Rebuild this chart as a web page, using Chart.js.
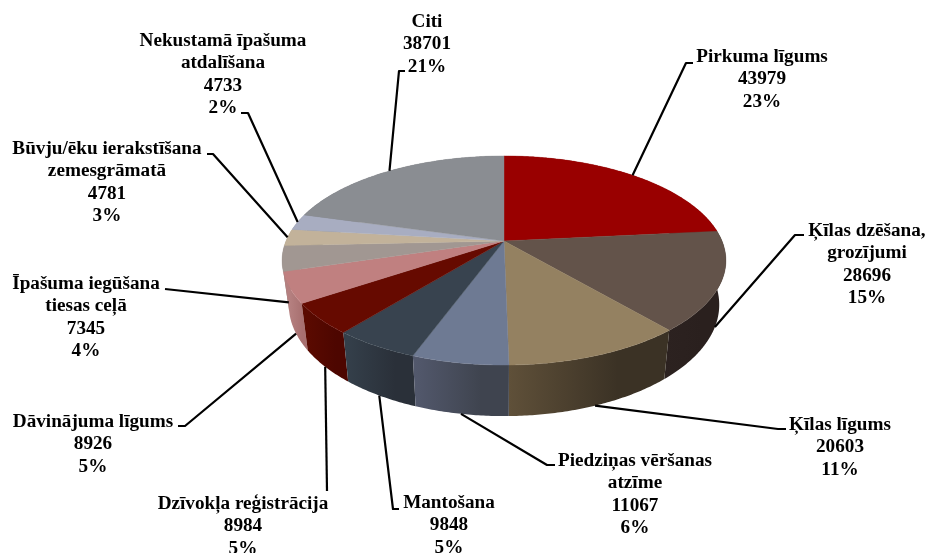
<!DOCTYPE html>
<html>
<head>
<meta charset="utf-8">
<style>
html,body{margin:0;padding:0;background:#fff;overflow:hidden}
canvas{display:block}
</style>
<script src="https://cdn.jsdelivr.net/npm/chart.js@4/dist/chart.umd.min.js"></script>
</head>
<body>
<canvas id="chart" width="928" height="553"></canvas>
<script>
// data
const categories=['Pirkuma līgums','Ķīlas dzēšana,\ngrozījumi','Ķīlas līgums','Piedziņas vēršanas\natzīme','Mantošana','Dzīvokļa reģistrācija','Dāvinājuma līgums','Īpašuma iegūšana\ntiesas ceļā','Būvju/ēku ierakstīšana\nzemesgrāmatā','Nekustamā īpašuma\natdalīšana','Citi'];
const counts=[43979,28696,20603,11067,9848,8984,8926,7345,4781,4733,38701];
const percents=['23%','15%','11%','6%','5%','5%','5%','4%','3%','2%','21%'];

// colours
const topColors=['#990000','#63534a','#948161','#6e7a93','#38434f','#660a00','#c08080','#a19792','#c2b29a','#a8adc1','#8a8d92'];
const sideLeft=['#7a0000','#2c2220','#5f5039','#52586c','#343f4a','#5a0a00','#b58080','#8a807b','#a3957f','#8b8fa0','#6f7176'];
const sideRight=['#7a0000','#2a201e','#3b3225','#3f444f','#2a3039','#4d0600','#a87070','#8a807b','#a3957f','#8b8fa0','#6f7176'];

// label layout: centre x, first baseline, leader elbow and end
const labelX=[762,867,840,635,449,243,93,86,107,223,427];
const labelY=[62,236,430,466,508,509,427,289,154,46,27];
const leaderEnds=[
  [[686,63],[693,63]],
  [[795,235],[804,235]],
  [[778,429],[786,429]],
  [[547,465],[555,465]],
  [[393,509],[399,509]],
  [[327,491]],
  [[185,426],[178,426]],
  [[165,289]],
  [[213,154],[207,154]],
  [[248,113],[241,113]],
  [[399,71],[405,71]]
];

// perspective of the disc
const cx=504,cy=241,R=218,K=100.9,P=0.1866;
const lineH=22.4;

function topPoint(a){
  const w=1-P*Math.sin(a);
  return [cx+R*Math.cos(a)/w,cy+K*Math.sin(a)/w];
}
function bottomPoint(a){
  const p=topPoint(a);
  return [cx+(p[0]-cx)*0.97,cy+(p[1]-cy)*1.065+43];
}
function arcPoints(fn,a0,a1){
  const n=Math.max(2,Math.ceil((a1-a0)/0.01)),pts=[];
  for(let i=0;i<=n;i++)pts.push(fn(a0+(a1-a0)*i/n));
  return pts;
}
function tracePts(ctx,pts){pts.forEach((p,i)=>i?ctx.lineTo(p[0],p[1]):ctx.moveTo(p[0],p[1]));}

const pie3d={
  id:'pie3d',
  beforeDatasetsDraw(chart){
    const ctx=chart.ctx,arcs=chart.getDatasetMeta(0).data;
    const order=arcs.map((_,i)=>i).sort((a,b)=>
      Math.sin((arcs[a].startAngle+arcs[a].endAngle)/2)-Math.sin((arcs[b].startAngle+arcs[b].endAngle)/2));
    ctx.save();
    // side wall, lighter on the left of each slice
    order.forEach(i=>{
      const a0=arcs[i].startAngle,a1=arcs[i].endAngle;
      const bot=arcPoints(bottomPoint,a0,a1),top=arcPoints(topPoint,a0,a1);
      const xs=bot.map(p=>p[0]);
      const g=ctx.createLinearGradient(Math.min(...xs),0,Math.max(...xs),0);
      g.addColorStop(0,sideLeft[i]);
      g.addColorStop(0.7,sideRight[i]);
      g.addColorStop(1,sideRight[i]);
      ctx.beginPath();
      tracePts(ctx,top.concat(bot.reverse()));
      ctx.closePath();
      ctx.fillStyle=g;
      ctx.fill();
    });
    // top face
    arcs.forEach((arc,i)=>{
      ctx.beginPath();
      ctx.moveTo(cx,cy);
      arcPoints(topPoint,arc.startAngle,arc.endAngle).forEach(p=>ctx.lineTo(p[0],p[1]));
      ctx.closePath();
      ctx.fillStyle=topColors[i];
      ctx.strokeStyle=topColors[i];
      ctx.lineWidth=0.4;
      ctx.fill();
      ctx.stroke();
    });
    // leader lines
    ctx.strokeStyle='#000';
    ctx.lineWidth=2.2;
    ctx.lineJoin='round';
    arcs.forEach((arc,i)=>{
      const mid=(arc.startAngle+arc.endAngle)/2;
      const start=Math.sin(mid)>0.1?bottomPoint(mid):topPoint(mid);
      ctx.beginPath();
      tracePts(ctx,[start].concat(leaderEnds[i]));
      ctx.stroke();
    });
    // labels
    ctx.fillStyle='#000';
    ctx.font='bold 19.2px "Liberation Serif"';
    ctx.textAlign='center';
    ctx.textBaseline='alphabetic';
    categories.forEach((c,i)=>{
      c.split('\n').concat([String(counts[i]),percents[i]]).forEach((t,j)=>{
        ctx.fillText(t,labelX[i],labelY[i]+j*lineH);
      });
    });
    ctx.restore();
    return false;
  }
};

new Chart(document.getElementById('chart'),{
  type:'pie',
  data:{labels:categories,datasets:[{data:counts,backgroundColor:topColors,borderWidth:0}]},
  options:{responsive:false,animation:false,rotation:0,
    plugins:{legend:{display:false},tooltip:{enabled:false}}},
  plugins:[pie3d]
});
</script>
</body>
</html>
